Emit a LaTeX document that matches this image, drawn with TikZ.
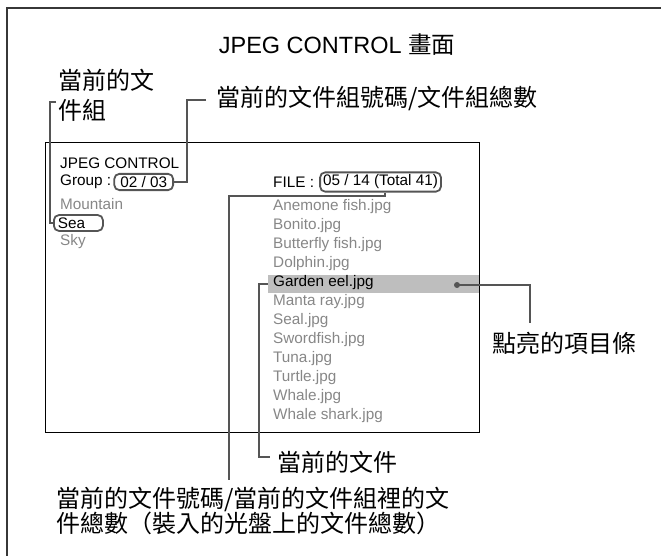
\documentclass[tikz,border=0pt]{standalone}
\usepackage{fontspec}
\setmainfont{Liberation Sans}
\newfontfamily\cjk{Noto Sans CJK TC}
\usetikzlibrary{positioning}
\definecolor{framegray}{RGB}{55,55,55}
\definecolor{calloutgray}{RGB}{85,85,85}
\definecolor{itemgray}{RGB}{135,135,135}
\definecolor{barfill}{RGB}{190,190,190}
\tikzset{
  screentext/.style={font=\fontsize{15.3}{15.3}\selectfont,anchor=west,inner sep=0pt},
  dimitem/.style={screentext,text=itemgray},
  valuebox/.style={draw=calloutgray,line width=1.8pt,rounded corners=5pt,
    font=\fontsize{15.3}{15.3}\selectfont,inner xsep=3pt,inner ysep=2.5pt,anchor=west},
  callout/.style={draw=calloutgray,line width=2pt},
  calloutlabel/.style={font=\cjk\fontsize{24}{30}\selectfont,align=left,inner sep=0pt}
}

\begin{document}
\begin{tikzpicture}[x=1pt,y=-1pt]
  \useasboundingbox (0,0) rectangle (661,556);
  \draw[framegray,line width=2pt] (7,8) rectangle (700,600);

  \node[font=\fontsize{23.5}{23.5}\selectfont] (title) at (337,45) {JPEG CONTROL {\cjk 畫面}};

  % screen
  \node[draw,line width=1.1pt,anchor=north west,inner sep=0pt,
    minimum width=434pt,minimum height=290pt] (screen) at (45,142) {};
  \node[fill=barfill,anchor=north west,inner sep=0pt,
    minimum width=211pt,minimum height=18pt] (hlbar) at (268,275) {};

  \node[screentext] (scrtitle) at (60,163) {JPEG CONTROL};
  \node[screentext] (grplbl) at (60,182) {Group :};
  \node[valuebox,inner xsep=6pt,right=2pt of grplbl] (grpval) {02 / 03};
  \node[dimitem] (mountain) at (60,204) {Mountain};
  \node[valuebox,text width=41pt,inner xsep=4pt] (sea) at (53,223) {Sea};
  \node[dimitem] (sky) at (60,242) {Sky};

  \node[screentext] (filelbl) at (273,182) {FILE :};
  \node[valuebox,right=5pt of filelbl] (fileval) {05 / 14 (Total 41)};
  \foreach \fname/\fstyle [count=\i] in {Anemone fish.jpg/dimitem,Bonito.jpg/dimitem,
    Butterfly fish.jpg/dimitem,Dolphin.jpg/dimitem,Garden eel.jpg/screentext,
    Manta ray.jpg/dimitem,Seal.jpg/dimitem,Swordfish.jpg/dimitem,Tuna.jpg/dimitem,
    Turtle.jpg/dimitem,Whale.jpg/dimitem,Whale shark.jpg/dimitem}
    \node[\fstyle] (file\i) at (273,188+19*\i) {\fname};

  % callouts
  \node[calloutlabel,anchor=north west] (grplabel) at (58,69) {當前的文\\件組};
  \node[calloutlabel,anchor=west] (grpnumlabel) at (216,98) {當前的文件組號碼/文件組總數};
  \node[calloutlabel,anchor=west] (hllabel) at (492,343) {點亮的項目條};
  \node[calloutlabel,anchor=west] (curlabel) at (277,462) {當前的文件};
  \node[calloutlabel,anchor=north west,font=\cjk\fontsize{24}{25}\selectfont]
    (cntlabel) at (56,487) {當前的文件號碼/當前的文件組裡的文\\件總數（裝入的光盤上的文件總數）};

  \coordinate (grptop) at (56,102);
  \coordinate (grpnumtop) at (206,100);
  \coordinate (hldot) at (457,285);
  \coordinate (hlend) at (530,323);
  \coordinate (curend) at (270,457);
  \coordinate (cntend) at (229,480);

  \draw[callout] (grptop) -- ++(-6,0) |- (sea.west);
  \draw[callout] (grpnumtop) -- ++(-19,0) |- (grpval.east);
  \draw[callout] ([xshift=4pt]fileval.south) -- ++(0,3) -| (cntend);
  \draw[callout] (hlbar.west) -- ++(-9,0) |- (curend);
  \fill[calloutgray] (hldot) circle (3pt);
  \draw[callout] (hldot) -| (hlend);
\end{tikzpicture}
\end{document}
